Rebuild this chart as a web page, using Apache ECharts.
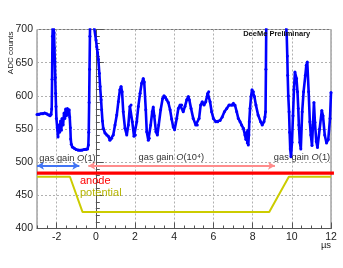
<!DOCTYPE html>
<html>
<head>
<meta charset="utf-8">
<script src="https://cdn.jsdelivr.net/npm/echarts@6/dist/echarts.min.js"></script>
<style>
html,body{margin:0;padding:0;background:#fff;}
#c{width:343px;height:268px;}
</style>
</head>
<body>
<div id="c"></div>
<script>
// ---- data ----
const timeUs = [
-3.00,-2.90,-2.80,-2.70,-2.60,-2.50,-2.40,-2.33,-2.28,-2.25,-2.23,-2.21,-2.19,-2.16,-2.13,-2.11,-2.09,-2.07,-2.05,-2.03,-2.01,
-1.97,-1.93,-1.89,-1.85,-1.80,-1.76,-1.72,-1.67,-1.62,-1.58,-1.54,-1.50,-1.45,-1.40,-1.36,-1.33,-1.30,-1.28,-1.25,-1.20,
-1.10,-1.00,-0.90,-0.80,-0.70,-0.60,-0.50,-0.42,-0.38,-0.36,-0.34,-0.32,-0.30,-0.28,-0.20,-0.12,-0.08,
0.01,0.05,0.09,0.13,0.18,0.22,0.27,0.30,0.34,0.38,0.47,0.56,0.64,0.72,0.81,0.89,0.98,1.07,1.15,1.23,1.29,1.34,1.40,1.49,
1.58,1.66,1.74,1.80,1.86,1.95,2.02,2.09,2.17,2.26,2.34,2.42,2.47,2.55,2.60,2.68,2.73,2.80,2.88,2.93,2.98,3.07,3.14,3.21,
3.31,3.41,3.48,3.55,3.62,3.70,3.79,3.87,3.95,4.02,4.13,4.21,4.30,4.38,4.46,4.55,4.64,4.72,4.77,4.86,4.97,5.10,5.18,5.27,
5.35,5.43,5.52,5.61,5.71,5.76,5.83,5.91,6.00,6.12,6.22,6.34,6.45,6.56,6.68,6.80,6.93,7.02,7.10,7.19,7.27,7.36,7.44,7.53,
7.61,7.66,7.70,7.73,7.76,7.78,7.81,7.83,7.87,7.92,7.97,8.04,8.09,8.17,8.28,8.41,8.49,8.58,8.63,8.66,8.68,8.70,8.80,9.10,
9.40,9.65,9.71,9.74,9.77,9.79,9.82,9.86,9.89,9.92,9.96,10.01,10.06,10.11,10.16,10.24,10.29,10.33,10.36,10.41,10.46,10.53,
10.60,10.69,10.74,10.79,10.86,10.92,10.97,11.03,11.08,11.13,11.18,11.25,11.31,11.42,11.53,11.59,11.68,11.77,11.86,11.95,12.00
];
const adcCounts = [
572,572,573,573,574,573,571,570,572,580,625,690,712,712,695,672,652,628,604,584,566,
552,538,556,545,562,548,566,556,574,566,580,570,581,572,579,568,552,535,527,523,
521,519,518,518,518,519,519,520,526,545,590,640,690,730,780,750,702,
684,674,665,655,634,614,594,579,562,551,544,541,539,533,536,541,556,571,591,609,614,606,576,551,
541,556,584,586,561,539,541,561,584,604,619,626,621,579,546,533,536,556,576,583,570,546,541,556,
579,596,600,598,594,590,579,565,553,549,566,581,586,586,576,584,594,599,594,581,566,556,556,566,
586,591,586,591,604,606,591,576,566,561,561,563,568,576,581,586,586,589,586,576,566,561,556,551,
541,534,545,529,548,526,541,561,581,599,609,606,599,586,571,561,556,561,568,576,640,720,780,800,
800,740,705,692,660,631,600,576,545,520,508,530,570,610,636,626,606,581,556,530,520,576,
606,631,646,651,606,561,541,525,556,590,560,531,522,550,578,570,541,529,534,566,605
];
// anode potential trace (µs, ADC-scale level)
const potentialTime = [-3, -1.32, -0.68, 8.85, 9.85, 12];
const potentialLevel = [478, 478, 425, 425, 478, 478];
// red reference level
const anodeLineTime = [-3, 12.15];
const anodeLineLevel = [483.5, 483.5];
// gas gain arrows: [start, end] in µs
const lowGainA = [-3, -0.84];
const highGain = [-0.38, 9.14];
const lowGainB = [9.82, 12.08];
const arrowLevel = 494.7;
const yTicks = [400, 450, 500, 550, 600, 650, 700];
const xTicks = [-2, 0, 2, 4, 6, 8, 10, 12];

const zip = (a, b) => a.map((v, i) => [v, b[i]]);
const FONT = '"Liberation Sans", Arial, Helvetica, sans-serif';
const chart = echarts.init(document.getElementById('c'), null, {renderer: 'canvas'});

const dotted = {type: [2, 2], color: '#b0b0b0', width: 1};
const arrowLine = (seg, color) => [{coord: [seg[0], arrowLevel], lineStyle: {color: color, width: 2, type: 'solid'}}, {coord: [seg[1], arrowLevel]}];

chart.setOption({
  animation: false,
  backgroundColor: '#ffffff',
  grid: {left: 37, right: 12, top: 29.5, bottom: 39.5, show: true, borderColor: '#777', borderWidth: 1, backgroundColor: 'transparent'},
  xAxis: [{
    type: 'value', min: -3, max: 12, splitNumber: 7,
    axisLine: {lineStyle: {color: '#555'}},
    axisTick: {inside: true, length: 6, lineStyle: {color: '#555'}},
    axisLabel: {showMinLabel: false, fontSize: 10.5, color: '#222', margin: 3, fontFamily: FONT,
      formatter: v => xTicks.indexOf(v) >= 0 ? String(v) : ''},
    splitLine: {show: true, lineStyle: dotted}
  }, {
    type: 'value', min: -3, max: 12, interval: 0.5, position: 'bottom',
    axisLine: {show: false}, axisLabel: {show: false}, splitLine: {show: false},
    axisTick: {inside: true, length: 3, lineStyle: {color: '#555'}}
  }],
  yAxis: {
    type: 'value', min: 400, max: 700, interval: 50,
    axisLine: {show: true, lineStyle: {color: '#555'}},
    axisTick: {show: true, inside: true, length: 8, lineStyle: {color: '#555'}},
    minorTick: {show: true, splitNumber: 5, length: 4, lineStyle: {color: '#555'}},
    axisLabel: {fontSize: 10.5, color: '#222', margin: 4, fontFamily: FONT,
      formatter: v => yTicks.indexOf(v) >= 0 ? String(v) : ''},
    splitLine: {show: true, lineStyle: dotted}
  },
  series: [
    {
      type: 'line', name: 'potential', data: zip(potentialTime, potentialLevel),
      symbol: 'none', lineStyle: {color: '#cccc00', width: 2}, z: 2, silent: true
    },
    {
      type: 'line', name: 'anode', data: zip(anodeLineTime, anodeLineLevel), clip: false,
      symbol: 'none', lineStyle: {color: '#ff0000', width: 3.3}, z: 2, silent: true
    },
    {
      type: 'line', name: 'gain', data: [], z: 2,
      markLine: {
        silent: true, symbol: ['arrow', 'arrow'], symbolSize: [6, 7], label: {show: false},
        data: [arrowLine(lowGainA, '#4275f5'), arrowLine(highGain, '#ff8c8c'), arrowLine(lowGainB, '#4275f5')]
      }
    },
    {
      type: 'line', name: 'ADC', data: zip(timeUs, adcCounts), clip: true,
      symbol: 'circle', symbolSize: 3, showAllSymbol: true,
      lineStyle: {color: '#0000ff', width: 2.6}, itemStyle: {color: '#0000ff'}, z: 3, silent: true
    }
  ],
  graphic: [
    {type: 'text', x: 10.5, y: 31.5, rotation: Math.PI / 2,
      style: {text: 'ADC counts', font: '8px ' + FONT, fill: '#222', align: 'right', verticalAlign: 'middle'}},
    {type: 'text', x: 326, y: 245,
      style: {text: 'µs', font: '9.5px ' + FONT, fill: '#222', align: 'center', verticalAlign: 'middle'}},
    {type: 'text', x: 276.7, y: 33.5, z: 10,
      style: {text: 'DeeMe Preliminary', font: 'bold 7.5px ' + FONT, fill: '#111', align: 'center', verticalAlign: 'middle'}},
    {type: 'text', x: 67.5, y: 158, z: 10,
      style: {text: '{n|gas gain }{i|O}{n|(1)}', align: 'center', verticalAlign: 'middle',
        rich: {n: {fontSize: 9.3, fontFamily: FONT, fill: '#333'}, i: {fontSize: 9.3, fontFamily: FONT, fontStyle: 'italic', fill: '#333'}}}},
    {type: 'text', x: 171.3, y: 157.5, z: 10,
      style: {text: '{n|gas gain }{i|O}{n|(10⁴)}', align: 'center', verticalAlign: 'middle',
        rich: {n: {fontSize: 9.3, fontFamily: FONT, fill: '#333'}, i: {fontSize: 9.3, fontFamily: FONT, fontStyle: 'italic', fill: '#333'}}}},
    {type: 'text', x: 302, y: 157.5, z: 10,
      style: {text: '{n|gas gain }{i|O}{n|(1)}', align: 'center', verticalAlign: 'middle',
        rich: {n: {fontSize: 9.3, fontFamily: FONT, fill: '#333'}, i: {fontSize: 9.3, fontFamily: FONT, fontStyle: 'italic', fill: '#333'}}}},
    {type: 'text', x: 80, y: 181, z: 10,
      style: {text: 'anode', font: '11px ' + FONT, fill: '#ff0000', align: 'left', verticalAlign: 'middle'}},
    {type: 'text', x: 80, y: 192.5, z: 10,
      style: {text: 'potential', font: '11px ' + FONT, fill: '#b5b500', align: 'left', verticalAlign: 'middle'}}
  ]
});
</script>
</body>
</html>
